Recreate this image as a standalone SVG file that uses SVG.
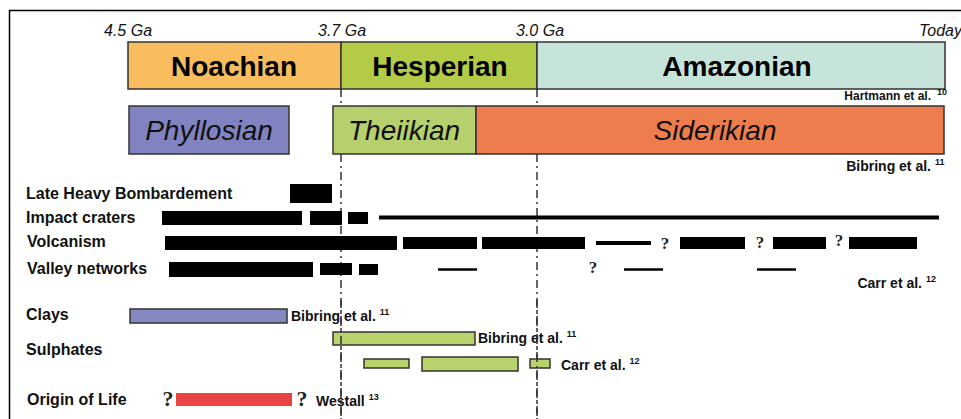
<svg xmlns="http://www.w3.org/2000/svg" width="961" height="419" viewBox="0 0 961 419">
  <style>
    .age { font-family: "Liberation Sans", Arial, sans-serif; font-style: italic; font-size: 16px; fill: #111; }
    .era { font-family: "Liberation Sans", Arial, sans-serif; font-weight: bold; font-size: 28px; fill: #000; text-anchor: middle; }
    .eon { font-family: "Liberation Sans", Arial, sans-serif; font-style: italic; font-size: 28px; fill: #111; text-anchor: middle; }
    .lbl { font-family: "Liberation Sans", Arial, sans-serif; font-weight: bold; font-size: 16px; fill: #111; }
    .ref { font-family: "Liberation Sans", Arial, sans-serif; font-weight: bold; font-size: 14px; fill: #111; }
    .refs { font-family: "Liberation Sans", Arial, sans-serif; font-weight: bold; font-size: 12px; fill: #111; }
    .sup { font-size: 9px; }
    .q { font-family: "Liberation Serif", "Times New Roman", serif; font-weight: bold; font-size: 17px; fill: #222; text-anchor: middle; }
    .qb { font-family: "Liberation Serif", "Times New Roman", serif; font-weight: bold; font-size: 22px; fill: #222; text-anchor: middle; }
    .box { stroke: #333; stroke-width: 1.5; }
    .bar { fill: #000; }
    .thin { stroke: #000; fill: none; }
    .div { stroke: #333; stroke-width: 1.5; stroke-dasharray: 8 4 2 4; fill: none; }
  </style>

  <rect width="961" height="419" fill="#fff"/>
  <!-- frame -->
  <path d="M9.5,419 V10.5 H961" fill="none" stroke="#000" stroke-width="1.5"/>

  <!-- age ticks -->
  <g id="ages">
    <text class="age" x="104" y="36">4.5 Ga</text>
    <text class="age" x="318" y="36">3.7 Ga</text>
    <text class="age" x="516" y="36">3.0 Ga</text>
    <text class="age" x="962" y="36" text-anchor="end">Today</text>
  </g>

  <!-- boundary lines at 3.7 and 3.0 Ga -->
  <g id="connectors">
    <line class="div" x1="341" y1="89" x2="341" y2="106"/>
    <line class="div" x1="341" y1="154" x2="341" y2="419"/>
    <line class="div" x1="537" y1="89" x2="537" y2="106"/>
    <line class="div" x1="537" y1="154" x2="537" y2="419"/>
  </g>

  <!-- geological eras -->
  <g id="noachian">
    <rect class="box" x="128" y="42" width="213" height="47" fill="#F9BD5F"/>
    <text class="era" x="234" y="76">Noachian</text>
  </g>
  <g id="hesperian">
    <rect class="box" x="341" y="42" width="196" height="47" fill="#B3CB46"/>
    <text class="era" x="440" y="76">Hesperian</text>
  </g>
  <g id="amazonian">
    <rect class="box" x="537" y="42" width="408" height="47" fill="#C7E4DA"/>
    <text class="era" x="737" y="76">Amazonian</text>
  </g>
  <text class="refs" x="931" y="100" text-anchor="end">Hartmann et al.</text>
  <text class="refs sup" x="937" y="95">10</text>

  <!-- mineralogical eons -->
  <g id="phyllosian">
    <rect class="box" x="129" y="106" width="160" height="48" fill="#8083C0"/>
    <text class="eon" x="209" y="140">Phyllosian</text>
  </g>
  <g id="theiikian">
    <rect class="box" x="333" y="106" width="143" height="48" fill="#B6D06E"/>
    <text class="eon" x="404" y="140">Theiikian</text>
  </g>
  <g id="siderikian">
    <rect class="box" x="476" y="106" width="468" height="48" fill="#EE7D4E"/>
    <text class="eon" x="715" y="140">Siderikian</text>
  </g>
  <text class="ref" x="931" y="171" text-anchor="end">Bibring et al.</text>
  <text class="ref sup" x="935" y="165">11</text>

  <!-- Late Heavy Bombardement -->
  <g id="lhb">
    <text class="lbl" x="26" y="199">Late Heavy Bombardement</text>
    <rect class="bar" x="290" y="184" width="42" height="19"/>
  </g>

  <!-- Impact craters -->
  <g id="impact-craters">
    <text class="lbl" x="26" y="223">Impact craters</text>
    <rect class="bar" x="162" y="211" width="140" height="14"/>
    <rect class="bar" x="310" y="211" width="32" height="14"/>
    <rect class="bar" x="348" y="212" width="20" height="12"/>
    <line class="thin" x1="379" y1="217.5" x2="939" y2="217.5" stroke-width="4"/>
  </g>

  <!-- Volcanism -->
  <g id="volcanism">
    <text class="lbl" x="27" y="247">Volcanism</text>
    <rect class="bar" x="165" y="236" width="232" height="14"/>
    <rect class="bar" x="403" y="237" width="74" height="12"/>
    <rect class="bar" x="482" y="237" width="103" height="12"/>
    <line class="thin" x1="596" y1="243" x2="651" y2="243" stroke-width="4"/>
    <text class="q" x="665" y="249">?</text>
    <rect class="bar" x="680" y="237" width="65" height="12"/>
    <text class="q" x="760" y="248">?</text>
    <rect class="bar" x="773" y="237" width="53" height="12"/>
    <text class="q" x="839" y="246">?</text>
    <rect class="bar" x="849" y="237" width="68" height="12"/>
  </g>

  <!-- Valley networks -->
  <g id="valley-networks">
    <text class="lbl" x="27" y="274">Valley networks</text>
    <rect class="bar" x="169" y="262" width="144" height="15"/>
    <rect class="bar" x="320" y="263" width="32" height="12"/>
    <rect class="bar" x="359" y="264" width="19" height="11"/>
    <line class="thin" x1="438" y1="269.5" x2="477" y2="269.5" stroke-width="2.5"/>
    <text class="q" x="593" y="273">?</text>
    <line class="thin" x1="624" y1="269.5" x2="663" y2="269.5" stroke-width="2.5"/>
    <line class="thin" x1="757" y1="269.5" x2="796" y2="269.5" stroke-width="2.5"/>
  </g>
  <text class="ref" x="922" y="288" text-anchor="end">Carr et al.</text>
  <text class="ref sup" x="926" y="282">12</text>

  <!-- Clays -->
  <g id="clays">
    <text class="lbl" x="26" y="320">Clays</text>
    <rect class="box" x="130" y="309" width="157" height="14" fill="#8589C2"/>
    <text class="ref" x="291" y="321">Bibring et al. <tspan class="sup" dy="-6">11</tspan></text>
  </g>

  <!-- Sulphates -->
  <g id="sulphates">
    <text class="lbl" x="26" y="355">Sulphates</text>
    <rect class="box" x="333" y="332" width="142" height="13" fill="#B9D36C"/>
    <text class="ref" x="478" y="343">Bibring et al. <tspan class="sup" dy="-6">11</tspan></text>
    <rect class="box" x="364" y="359" width="45" height="9" fill="#B9D36C"/>
    <rect class="box" x="422" y="357" width="96" height="14" fill="#B9D36C"/>
    <rect class="box" x="530" y="359" width="20" height="9" fill="#B9D36C"/>
    <text class="ref" x="561" y="370">Carr et al. <tspan class="sup" dy="-6">12</tspan></text>
  </g>

  <!-- Origin of Life -->
  <g id="origin-of-life">
    <text class="lbl" x="27" y="405">Origin of Life</text>
    <text class="qb" x="168" y="406">?</text>
    <rect x="176" y="393" width="116" height="13" fill="#E84444"/>
    <text class="qb" x="302" y="406">?</text>
    <text class="ref" x="316" y="406">Westall <tspan class="sup" dy="-6">13</tspan></text>
  </g>

  <!-- keep the boundary lines visible over the lower bars -->
  <line class="div" x1="341" y1="300" x2="341" y2="419"/>
  <line class="div" x1="537" y1="300" x2="537" y2="419"/>
</svg>
